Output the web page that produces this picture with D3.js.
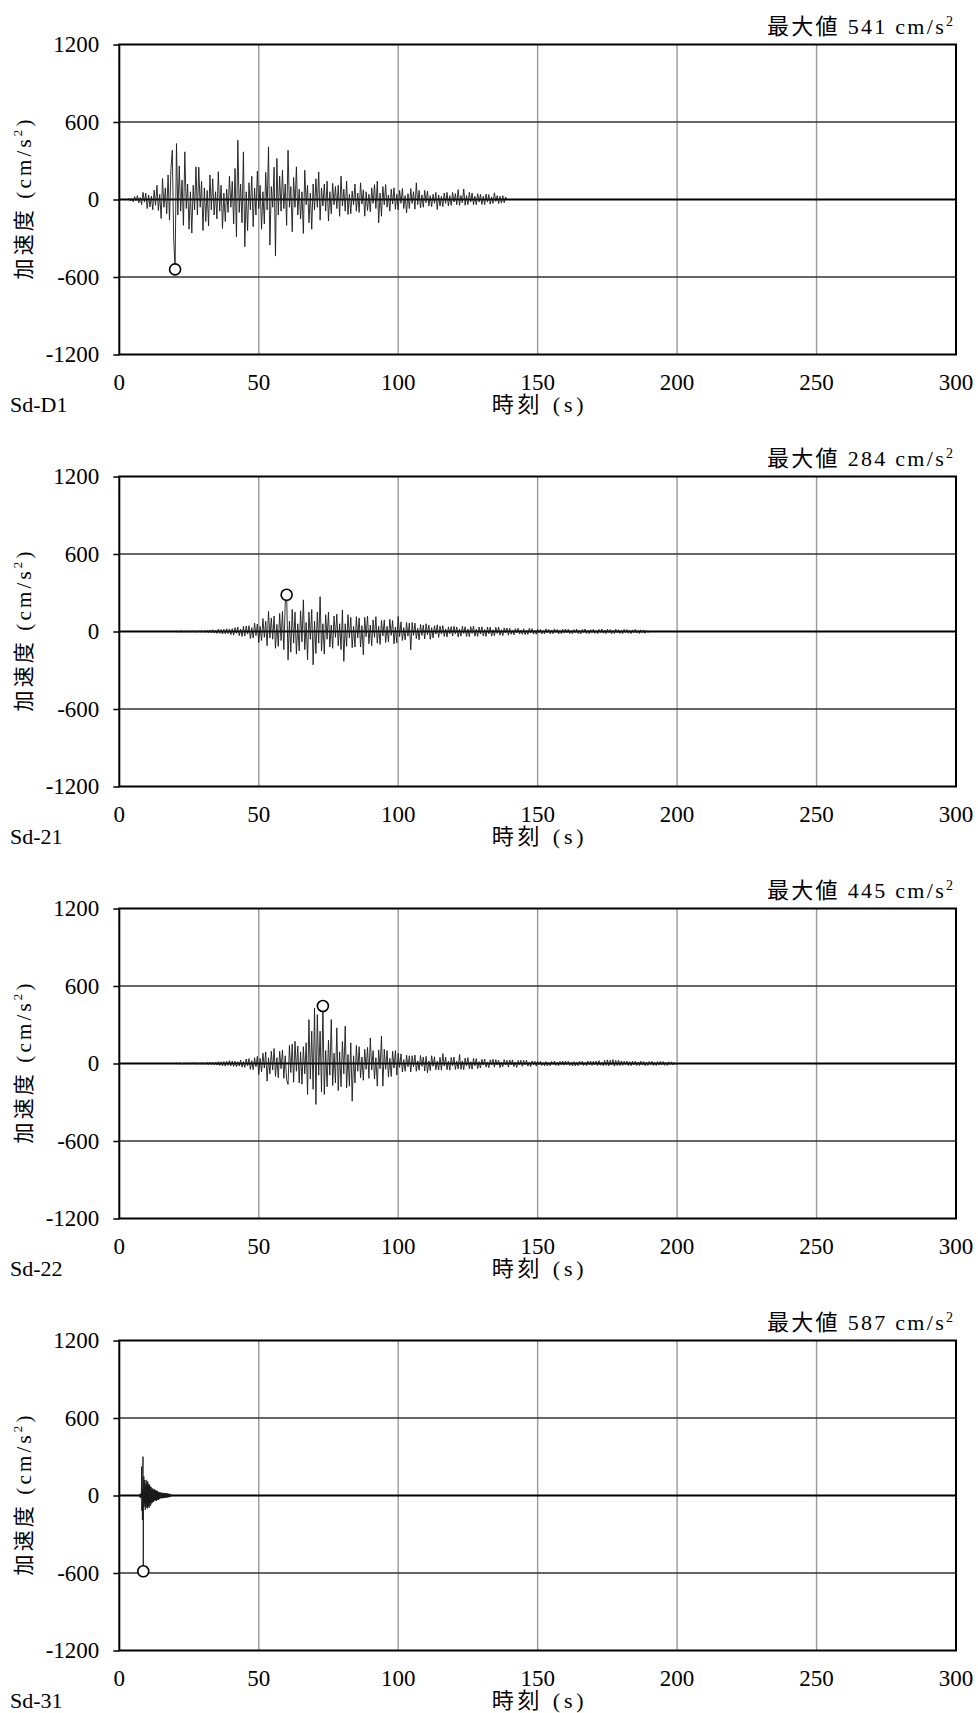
<!DOCTYPE html>
<html>
<head>
<meta charset="utf-8">
<script src="https://cdn.jsdelivr.net/npm/d3@7"></script>
<style>
  html, body { margin: 0; padding: 0; background: #fff; }
  svg { display: block; }
  text { font-family: "Liberation Serif", "Noto Sans CJK JP", serif; fill: #000; }
</style>
</head>
<body>
<svg id="chart" width="978" height="1713"></svg>
<script>
// ---------- data ----------
const xTicks = [0, 50, 100, 150, 200, 250, 300];
const yTicks = [-1200, -600, 0, 600, 1200];
const waveNames = ["Sd-D1", "Sd-21", "Sd-22", "Sd-31"];
const maxLabels = [541, 284, 445, 587];
const startTimes = [3, 20, 20, 7];         // s, time of first sample
const sampleSteps = [0.5, 0.5, 0.5, 0.1];  // s between samples

const sdD1 = [
  0, 8, -12, 6, -18, 22, -10, 30, -25, 15,
  -40, 55, -20, 48, -70, 35, -58, 26, -80, 72,
  -45, 110, -85, 40, -147, 162, -60, 90, -110, 190,
  -160, 230, 381, -301, -541, 433, -120, 260, -90, 150,
  -200, 369, -70, 120, -230, 60, -260, 110, -80, 253,
  -120, 250, -60, 140, -240, 90, -170, 70, -205, 190,
  -80, 160, -120, 60, -150, 215, -90, 110, -224, 50,
  -170, 80, -100, 180, -60, 140, -190, 240, -289, 459,
  -100, 120, -180, 369, -366, 60, -240, 130, -80, 180,
  -210, 90, -120, 220, -70, 110, -230, 60, -190, 210,
  -80, 408, -353, 100, -60, 250, -438, 318, -120, 180,
  -90, 227, -70, 120, -200, 381, -60, 100, -250, 170,
  -60, 253, -120, 80, -150, 60, -263, 227, -40, 110,
  -180, 50, -230, 120, -80, 160, -60, 214, -160, 90,
  -50, 120, -90, 142, -167, 60, -110, 125, -40, 100,
  -70, 110, -130, 180, -50, 80, -90, 142, -116, 40,
  -110, 65, -40, 120, -90, 50, -100, 129, -35, 75,
  -129, 60, -85, 40, -95, 90, -30, 115, -70, 142,
  -180, 50, -129, 100, -40, 116, -60, 35, -90, 80,
  -35, 90, -75, 40, -80, 70, -30, 85, -70, 30,
  -103, 45, -70, 85, -30, 60, -75, 129, -40, 70,
  -65, 35, -60, 70, -25, 65, -50, 30, -55, 40,
  -30, 55, -77, 35, -50, 25, -55, 50, -30, 55,
  -50, 30, -45, 55, -20, 45, -40, 77, -45, 30,
  -25, 82, -45, 30, -40, 55, -20, 50, -40, 25,
  -40, 45, -20, 40, -38, 25, -40, 42, -20, 38,
  -35, 20, -30, 52, -15, 30, -32, 25, -28, 30,
  -25, 20, 0
];

const sd21 = [
  0, 3, -4, 5, -3, 6, -5, 4, -6, 5,
  -5, 6, -4, 7, -6, 5, -7, 6, -5, 8,
  -6, 7, -8, 10, -9, 12, -10, 14, -12, 11,
  -15, 18, -14, 16, -20, 17, -18, 22, -16, 20,
  -25, 22, -28, 30, -14, 35, -32, 18, -38, 40,
  -35, 42, -20, 45, -55, 30, -50, 65, -32, 58,
  -85, 40, -70, 100, -45, 80, -110, 155, -50, 105,
  -60, 120, -130, 55, -115, 140, -70, 155, -140, 219,
  284, -219, 80, -160, 170, -90, 150, -175, 60, -150,
  160, -80, 245, -140, 70, -219, 150, -60, 170, -258,
  80, -170, 150, -90, 270, -150, 60, -175, 130, -60,
  150, -120, 50, -130, 120, -45, 135, -110, 60, -140,
  167, -232, 60, -115, 130, -50, 110, -125, 40, -120,
  115, -50, 105, -120, 45, -180, 110, -40, 120, -95,
  50, -110, 90, -45, 115, -90, 40, -100, 85, -35,
  90, -85, 40, -80, 95, -30, 85, -95, 35, -88,
  116, -40, 75, -70, 30, -65, 70, -35, 65, -142,
  70, -30, 65, -55, 25, -65, 55, -30, 50, -58,
  60, -25, 50, -60, 30, -50, 45, -20, 52, -45,
  42, -20, 45, -38, 20, -42, 36, -18, 38, -35,
  40, -18, 35, -42, 20, -36, 40, -15, 37, -38,
  20, -40, 38, -15, 42, -36, 18, -38, 35, -20,
  36, -34, 15, -38, 35, -18, 34, -36, 14, -33,
  32, -15, 35, -28, 14, -32, 28, -12, 27, -29,
  25, -22, 12, -26, 22, -10, 25, -20, 12, -22,
  21, -24, 10, -22, 24, -12, 22, -20, 10, -21,
  18, -10, 16, -19, 8, -17, 20, -9, 16, -18,
  12, -17, 20, -8, 16, -19, 10, -16, 18, -12,
  19, -9, 17, -16, 8, -18, 15, -10, 18, -16,
  9, -18, 16, -8, 19, -15, 10, -17, 14, -9,
  18, -14, 8, -17, 16, -10, 19, -13, 9, -16,
  17, -9, 15, -18, 8, -16, 18, -10, 14, -15,
  9, -16, 17, -8, 15, -14, 10, -16, 13, -9,
  16, -12, 8, -15, 13, -10, 12, -14, 8, -6, 0
];

const sd22 = [
  0, 4, -3, 5, -4, 3, -5, 6, -4, 5,
  -6, 5, -4, 7, -5, 6, -7, 5, -6, 8,
  -7, 6, -8, 9, -7, 10, -9, 8, -11, 10,
  -12, 14, -16, 13, -18, 15, -20, 17, -15, 22,
  -18, 20, -22, 18, -25, 14, -20, 26, -28, 15,
  -30, 35, -18, 38, -45, 22, -48, 45, -25, 55,
  -85, 40, -65, 80, -35, 90, -137, 45, -80, 95,
  -50, 116, -100, 45, -110, 95, -40, 105, -115, 60,
  -125, -162, 140, -70, 150, -145, 172, -60, 135, -150,
  90, -160, 130, -80, 160, -240, 340, -120, 250, -200,
  430, -317, 379, -90, 250, -220, 445, -240, 100, -180,
  180, -90, 340, -170, 80, -150, 276, -210, 90, -180,
  170, -80, 289, -190, 70, -175, 160, -291, 60, -150,
  140, -60, 130, -110, 50, -130, 110, -45, 125, -115,
  198, -50, 100, -120, 45, -175, 105, -40, 211, -175,
  110, -45, 100, -105, 40, -100, 95, -35, 100, -90,
  80, -30, 75, -65, 30, -60, 65, -25, 60, -65,
  60, -25, 65, -60, 20, -52, 62, -22, 50, -58,
  55, -72, 20, -55, 60, -22, 52, -48, 18, -50,
  48, -52, 77, -20, 50, -48, 18, -52, 47, -20,
  50, -46, 18, -42, 70, -45, 20, -48, 42, -18,
  45, -40, 15, -44, 40, -18, 38, -40, 15, -35,
  32, -12, 35, -28, 12, -32, 28, -10, 33, -27,
  30, -12, 26, -32, 10, -25, 30, -12, 25, -28,
  27, -10, 28, -24, 12, -30, 24, -10, 25, -22,
  24, -10, 26, -20, 12, -24, 20, -8, 18, -20,
  18, -9, 17, -16, 8, -18, 15, -19, 8, -17,
  16, -8, 18, -15, 9, -17, 16, -10, 18, -14,
  19, -9, 17, -16, 10, -18, 15, -19, 9, -16,
  17, -8, 18, -16, 9, -17, 19, -10, 18, -15,
  18, -10, 19, -16, 22, -14, 10, -18, 24, -14,
  28, -18, 25, -12, 30, -20, 24, -15, 26, -16,
  20, -14, 18, -10, 19, -16, 14, -17, 18, -10,
  17, -15, 9, -16, 18, -12, 15, -17, 10, -15,
  16, -10, 17, -15, 9, -16, 15, -12, 17, -10,
  15, -14, 10, -16, 14, -9, 13, -12, 8, -6, 0
];

const sd31 = [
  0, -5, 8, -12, 10, -15, 12, -20, 15, -10,
  224, -120, 60, -188, 150, 301, -587, 80, 147, -85,
  120, -60, 90, -111, 70, -90, 121, -70, 100, -95,
  80, -100, 110, -75, 90, -85, 70, -95, 85, -60,
  75, -80, 60, -70, 65, -55, 50, -60, 45, -50,
  55, -45, 40, -50, 45, -40, 48, -35, 42, -38,
  40, -35, 38, -42, 35, -30, 36, -32, 30, -34,
  28, -30, 25, -28, 22, -25, 24, -20, 22, -18,
  20, -22, 18, -20, 22, -17, 19, -21, 16, -18,
  20, -16, 18, -19, 15, -17, 18, -15, 16, -14,
  15, -13, 16, -14, 12, -15, 13, -12, 14, -11,
  12, -10, 11, -9, 10, -8, 6, -4, 0
];

const waveValues = [sdD1, sd21, sd22, sd31];

// ---------- layout ----------
const svg = d3.select("#chart");
const left = 119.3, right = 956;
const panelTop0 = 44.5, panelH = 310, panelGap = 432;

const x = d3.scaleLinear().domain([0, 300]).range([left, right]);

waveNames.forEach((name, k) => {
  const top = panelTop0 + k * panelGap;
  const bottom = top + panelH;
  const y = d3.scaleLinear().domain([-1200, 1200]).range([bottom, top]);
  const g = svg.append("g");

  // vertical grid (gray)
  g.selectAll("line.vg").data(xTicks.filter(d => d > 0 && d < 300)).enter()
    .append("line")
    .attr("x1", d => x(d)).attr("x2", d => x(d))
    .attr("y1", top).attr("y2", bottom)
    .attr("stroke", "#9a9a9a").attr("stroke-width", 1.4);

  // horizontal grid
  g.selectAll("line.hg").data(yTicks.filter(d => d !== 0 && Math.abs(d) < 1200)).enter()
    .append("line")
    .attr("x1", left).attr("x2", right)
    .attr("y1", d => y(d)).attr("y2", d => y(d))
    .attr("stroke", "#333").attr("stroke-width", 1.3);

  // y axis ticks + labels
  const yAxis = d3.axisLeft(y).tickValues(yTicks).tickSize(6).tickPadding(14)
    .tickFormat(d3.format("d"));
  const ya = g.append("g").attr("transform", `translate(${left},0)`).call(yAxis);
  ya.select(".domain").remove();
  ya.selectAll(".tick line").attr("stroke", "#000").attr("stroke-width", 1.5);
  ya.selectAll(".tick text").attr("font-size", 23)
    .attr("font-family", "Liberation Serif").attr("fill", "#000")
    .text(d => d < 0 ? "-" + Math.abs(d) : String(d));

  // x tick labels (no tick marks)
  g.selectAll("text.xt").data(xTicks).enter()
    .append("text")
    .attr("x", d => x(d)).attr("y", bottom + 35)
    .attr("text-anchor", "middle").attr("font-size", 23)
    .text(d => d);

  // zero line
  g.append("line")
    .attr("x1", left).attr("x2", right)
    .attr("y1", y(0)).attr("y2", y(0))
    .attr("stroke", "#000").attr("stroke-width", 2.2);

  // waveform
  const vals = waveValues[k];
  const t0 = startTimes[k], dt = sampleSteps[k];
  const pts = vals.map((v, i) => [t0 + i * dt, v]);
  const line = d3.line().x(d => x(d[0])).y(d => y(d[1]));
  g.append("path").datum(pts)
    .attr("d", line)
    .attr("fill", "none").attr("stroke", "#1a1a1a").attr("stroke-width", 0.9)
    .attr("stroke-linejoin", "miter");

  // frame
  g.append("rect")
    .attr("x", left).attr("y", top)
    .attr("width", right - left).attr("height", bottom - top)
    .attr("fill", "none").attr("stroke", "#000").attr("stroke-width", 2);

  // peak marker
  const peak = pts.reduce((a, b) => Math.abs(b[1]) > Math.abs(a[1]) ? b : a);
  g.append("circle")
    .attr("cx", x(peak[0])).attr("cy", y(peak[1])).attr("r", 5.5)
    .attr("fill", "#fff").attr("stroke", "#000").attr("stroke-width", 1.6);

  // max label
  const mt = g.append("text")
    .attr("x", 953).attr("y", top - 11)
    .attr("text-anchor", "end").attr("font-size", 22)
    .attr("textLength", 186).attr("lengthAdjust", "spacing");
  mt.append("tspan").text("最大値 " + maxLabels[k] + " cm/s");
  mt.append("tspan").attr("font-size", 14).attr("dy", -8).text("2");

  // y axis title
  const yt = g.append("text")
    .attr("transform", `translate(24,${(top + bottom) / 2}) rotate(-90)`)
    .attr("text-anchor", "middle").attr("dominant-baseline", "central")
    .attr("font-size", 21)
    .attr("textLength", 160).attr("lengthAdjust", "spacing");
  yt.append("tspan").text("加速度 (cm/s");
  yt.append("tspan").attr("font-size", 13).attr("dy", -7).text("2");
  yt.append("tspan").attr("dy", 7).text(")");

  // x axis title
  g.append("text")
    .attr("x", (left + right) / 2).attr("y", bottom + 57)
    .attr("text-anchor", "middle").attr("font-size", 22)
    .attr("textLength", 92).attr("lengthAdjust", "spacing")
    .text("時刻 (s)");

  // wave name
  g.append("text")
    .attr("x", 10).attr("y", bottom + 57)
    .attr("font-size", 22)
    .text(name);
});
</script>
</body>
</html>
